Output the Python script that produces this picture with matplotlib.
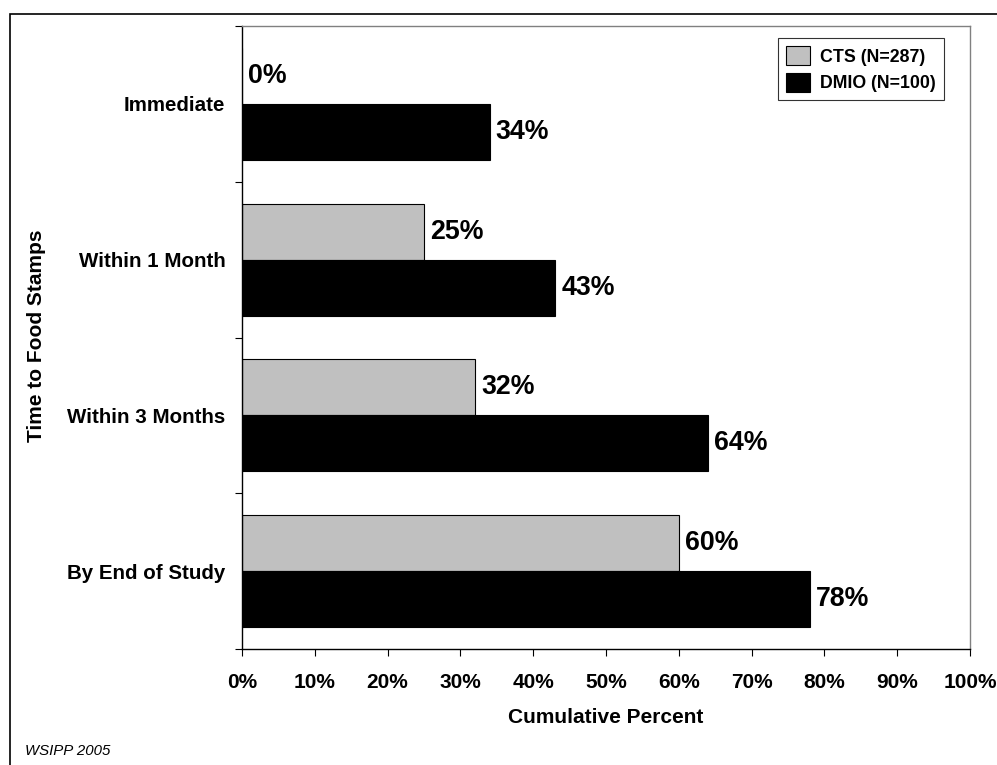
import matplotlib
matplotlib.use("Agg")
import matplotlib.pyplot as plt
from matplotlib.patches import Rectangle
import numpy as np

categories = ["Immediate", "Within 1 Month", "Within 3 Months", "By End of Study"]
cts_values = [0, 25, 32, 60]
dmio_values = [34, 43, 64, 78]
series_names = ["CTS (N=287)", "DMIO (N=100)"]
x_ticks = [0, 10, 20, 30, 40, 50, 60, 70, 80, 90, 100]
x_tick_labels = [f"{v}%" for v in x_ticks]

plt.rcParams['font.family'] = ['Liberation Sans', 'DejaVu Sans']

W, H = 997, 765
fig = plt.figure(figsize=(W / 100, H / 100), dpi=100)

# outer chart border
fig.patches.append(Rectangle((10 / W, -0.05), 1.1, 1 - 14 / H + 0.05,
                             transform=fig.transFigure, fill=False,
                             edgecolor="black", linewidth=1.2))

ax = fig.add_axes([242 / W, 1 - 649 / H, (970 - 242) / W, (649 - 26) / H])

centers = np.arange(len(categories)) + 0.5
bh = 0.36
ax.barh(centers - bh / 2, cts_values, height=bh, color="#c0c0c0",
        edgecolor="black", linewidth=0.8, label=series_names[0])
ax.barh(centers + bh / 2, dmio_values, height=bh, color="black",
        edgecolor="black", linewidth=0.8, label=series_names[1])

for c, v in zip(centers, cts_values):
    ax.annotate(f"{v}%", (v, c - bh / 2), xytext=(4.5, 0), textcoords="offset points",
                ha="left", va="center", fontsize=19.3, fontweight="bold")
for c, v in zip(centers, dmio_values):
    ax.annotate(f"{v}%", (v, c + bh / 2), xytext=(4.5, 0), textcoords="offset points",
                ha="left", va="center", fontsize=19.3, fontweight="bold")

ax.set_xlim(0, 100)
ax.set_ylim(len(categories), 0)
ax.set_xticks(x_ticks)
ax.set_xticklabels(x_tick_labels, fontsize=15, fontweight="bold")
ax.set_yticks(np.arange(len(categories) + 1))
ax.set_yticklabels([])
ax.set_yticks(centers, minor=True)
ax.set_yticklabels(categories, minor=True, fontsize=14.8, fontweight="bold")
ax.tick_params(axis="y", which="minor", length=0, pad=12)
ax.tick_params(axis="y", which="major", length=5, direction="out", width=0.8)
ax.tick_params(axis="x", which="major", length=5, direction="out", width=0.8, pad=12)

for s in ["left", "bottom"]:
    ax.spines[s].set_color("black")
    ax.spines[s].set_linewidth(1.0)
for s in ["top", "right"]:
    ax.spines[s].set_color("#808080")
    ax.spines[s].set_linewidth(1.0)

ax.set_xlabel("Cumulative Percent", fontsize=15, fontweight="bold", labelpad=12)
fig.text(37 / W, 1 - 336 / H, "Time to Food Stamps", rotation=90, ha="center",
         va="center", fontsize=15, fontweight="bold")

leg = ax.legend(loc="upper right", bbox_to_anchor=((944 - 242) / (970 - 242), (649 - 38) / (649 - 26)),
                prop={"size": 12.8, "weight": "bold"}, frameon=True, fancybox=False,
                edgecolor="black", handlelength=1.35, handleheight=1.3, borderpad=0.45,
                labelspacing=0.4, handletextpad=0.55, borderaxespad=0)
leg.get_frame().set_linewidth(0.8)

fig.text(25 / W, 1 - 751 / H, "WSIPP 2005", fontsize=10.8, style="italic", va="center")

fig.savefig("out.png", dpi=100)
